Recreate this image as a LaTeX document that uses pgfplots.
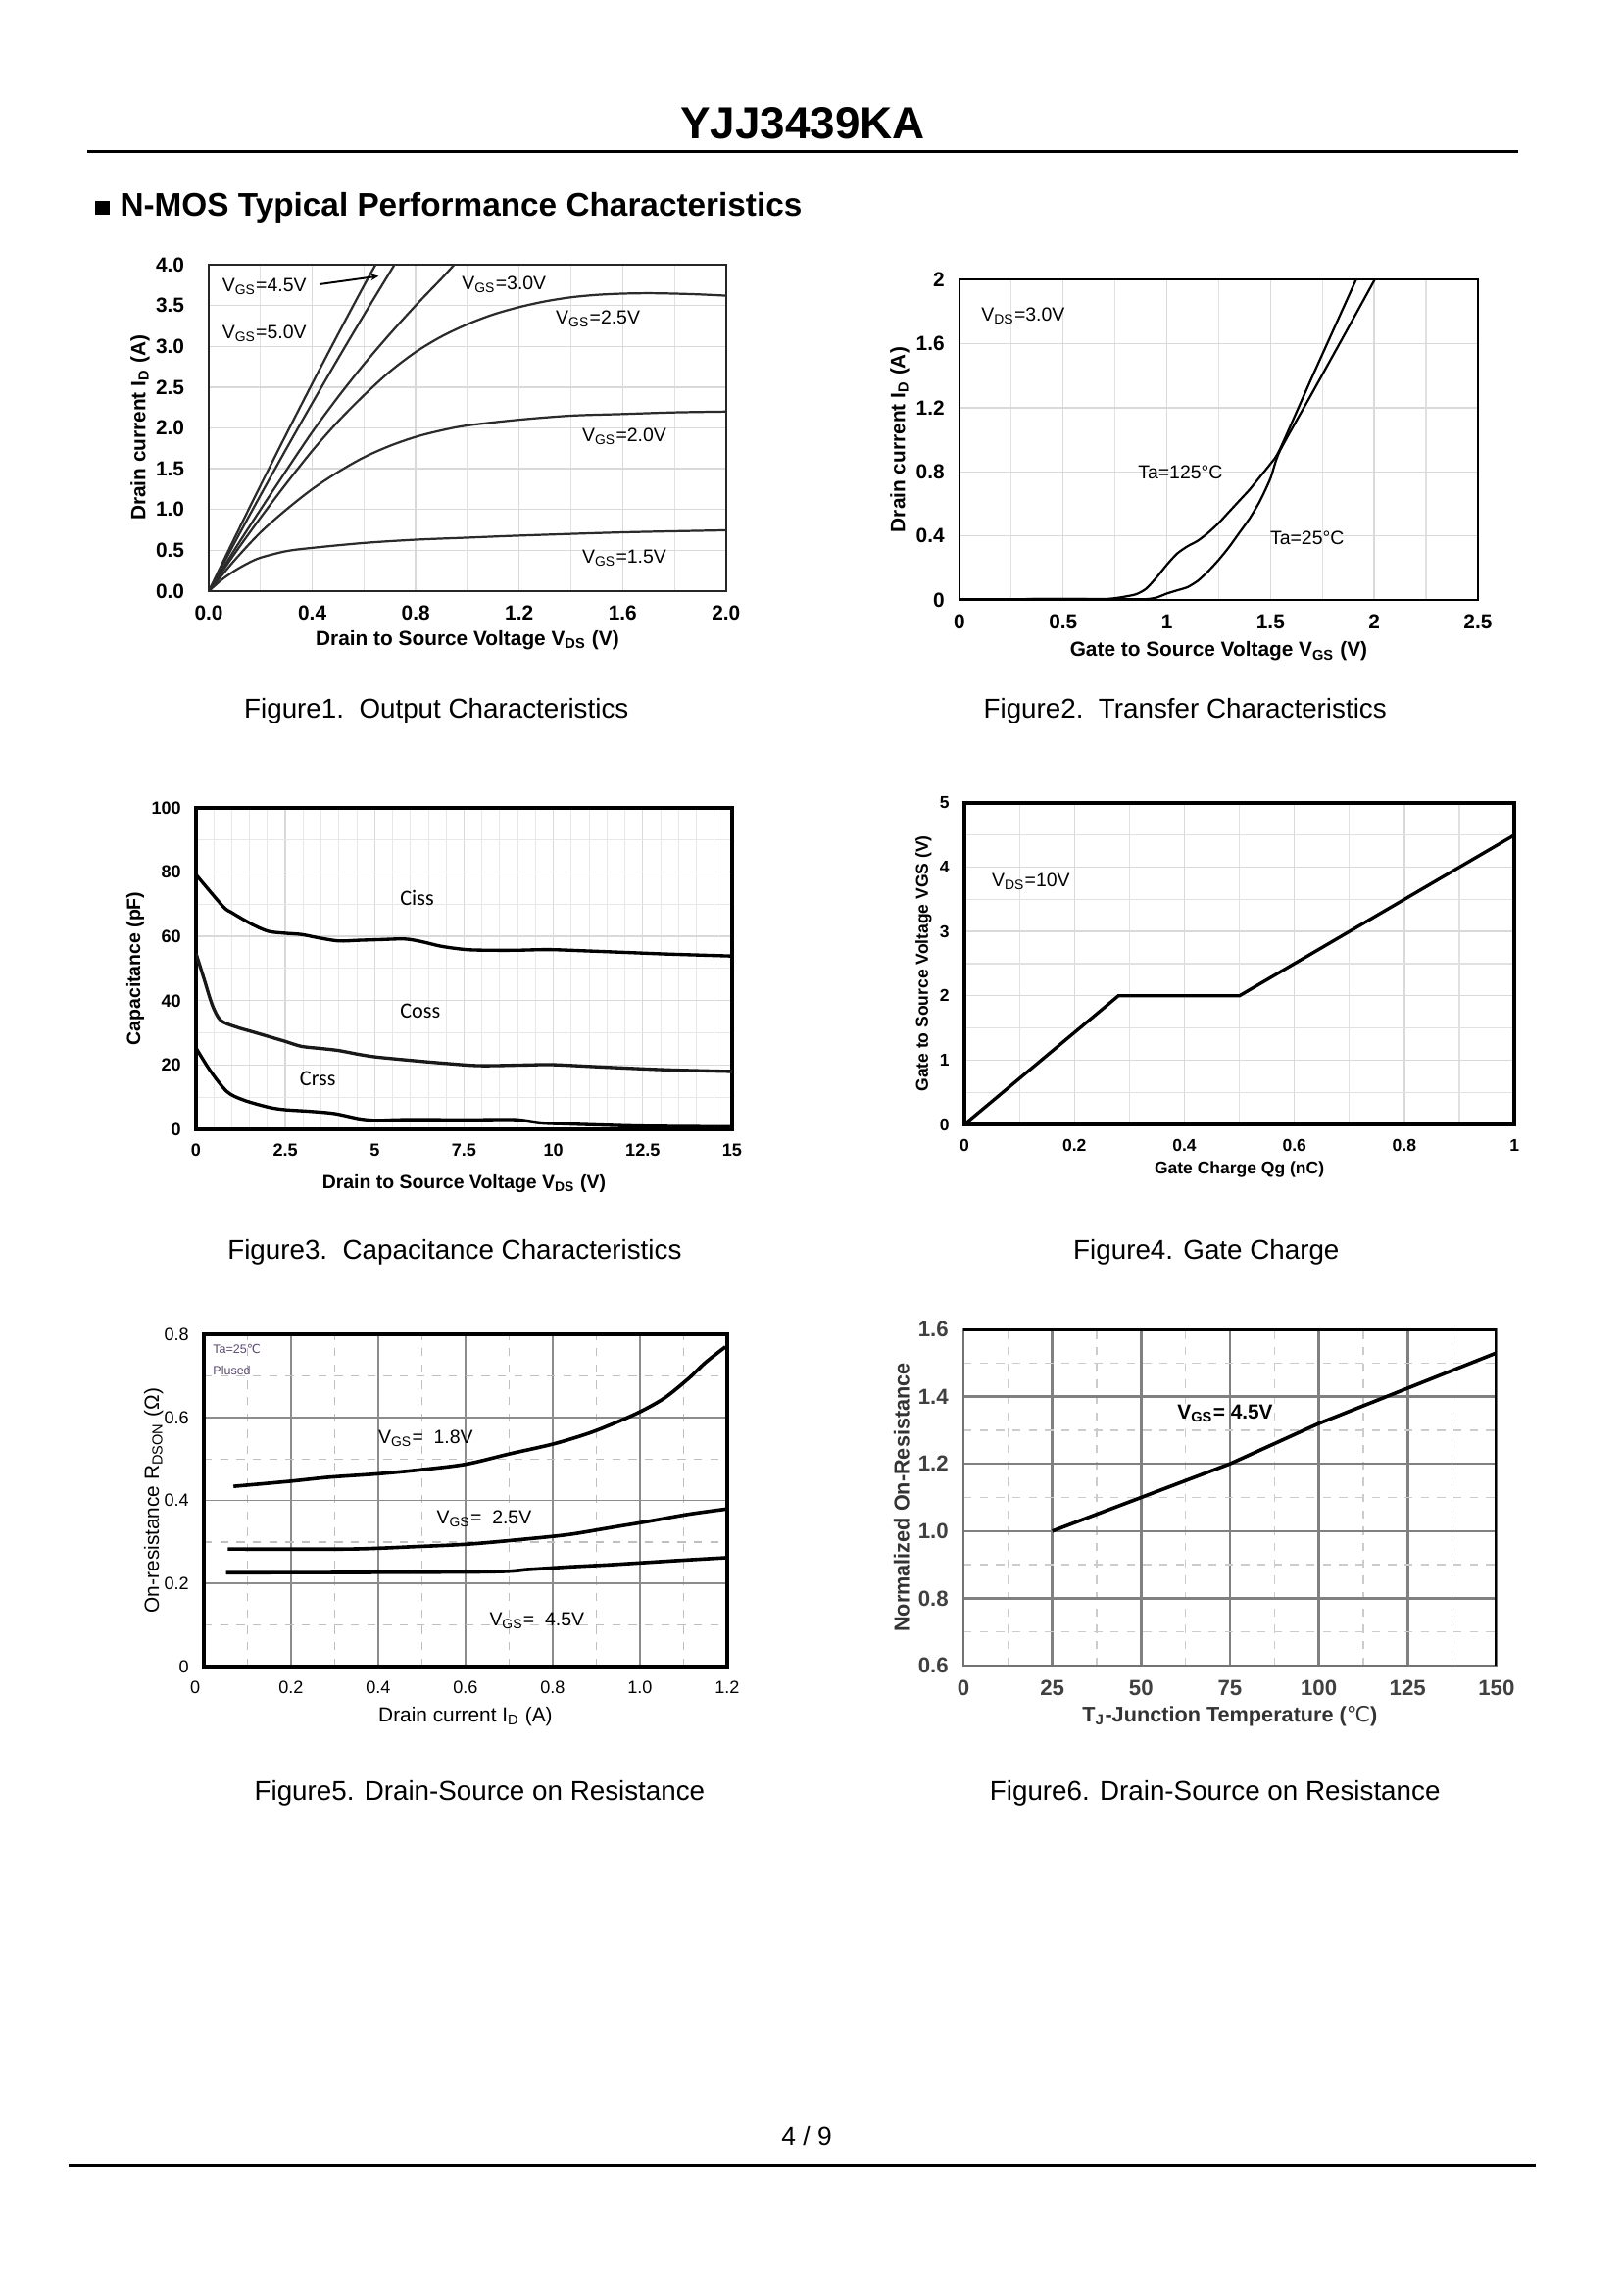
\documentclass[border=0pt]{standalone}
\usepackage{fontspec}
\setmainfont{Liberation Sans}
\newfontfamily\dejavu{DejaVu Sans}
\newfontfamily\carlito{Carlito}
\usepackage{pgfplots}
\pgfplotsset{compat=1.18}
\usetikzlibrary{arrows.meta}
\definecolor{gridc}{HTML}{D9D9D9}
\definecolor{curvec}{HTML}{2B2B2B}
\definecolor{tagc}{HTML}{5A4A6E}
\pgfplotsset{
  myax/.style={scale only axis, anchor=south west,
    major tick length=0pt, minor tick length=0pt,
    /pgf/number format/assume math mode=true,
    grid=both,
    tick label style={font=\fontsize{7}{8}\selectfont\bfseries},
    label style={font=\fontsize{7.5}{9}\selectfont\bfseries},
    xticklabel style={yshift=-2pt},
    yticklabel style={xshift=-2pt},
    major grid style={gridc, line width=0.5pt},
    minor grid style={gridc!80, line width=0.4pt},
  },
  c1/.style={curvec, line width=0.8pt, smooth, tension=0.5, no markers},
  c2/.style={black, line width=0.8pt, smooth, tension=0.4, no markers},
  c3/.style={black, line width=1.2pt, smooth, tension=0.5, no markers},
  c5/.style={black, line width=1.3pt, smooth, tension=0.5, no markers},
}
\newcommand{\fs}[1]{\fontsize{#1}{#1}\selectfont}
\begin{document}
\begin{tikzpicture}
\path[use as bounding box] (0,0) rectangle (596.16pt,-842.04pt);
\fill[white] (0,0) rectangle (596.16pt,-842.04pt);
% header
\node[anchor=base, font=\fs{16.5}\bfseries, inner sep=0pt] at (294.9pt,-51pt) {YJJ3439KA};
\draw[line width=1.1pt] (32.2pt,-55.6pt) -- (557.5pt,-55.6pt);
\fill (35pt,-78.8pt) rectangle (40.3pt,-73.8pt);
\node[anchor=base west, font=\fs{12}\bfseries, inner sep=0pt] at (43.9pt,-79.4pt) {N-MOS Typical Performance Characteristics};
% captions
\node[anchor=base, font=\fs{10}, inner sep=0pt] at (160.3pt,-263.7pt) {Figure1.\ \ Output Characteristics};
\node[anchor=base, font=\fs{10}, inner sep=0pt] at (435.3pt,-263.7pt) {Figure2.\ \ Transfer Characteristics};
\node[anchor=base, font=\fs{10}, inner sep=0pt] at (167pt,-462.4pt) {Figure3.\ \ Capacitance Characteristics};
\node[anchor=base, font=\fs{10}, inner sep=0pt] at (443.1pt,-462.4pt) {Figure4. Gate Charge};
\node[anchor=base, font=\fs{10}, inner sep=0pt] at (176.2pt,-661.1pt) {Figure5. Drain-Source on Resistance};
\node[anchor=base, font=\fs{10}, inner sep=0pt] at (446.3pt,-661.1pt) {Figure6. Drain-Source on Resistance};
% footer
\node[anchor=base, font=\fs{9.5}, inner sep=0pt] at (296.3pt,-788pt) {4 / 9};
\draw[line width=1.1pt] (25.2pt,-795pt) -- (564pt,-795pt);

%================ Figure 1
\begin{axis}[myax, at={(76.7pt,-217.08pt)}, width=190pt, height=119.9pt,
  xmin=0, xmax=2, ymin=0, ymax=4,
  xtick={0,0.4,0.8,1.2,1.6,2.0}, xticklabels={0.0,0.4,0.8,1.2,1.6,2.0},
  minor xtick={0.2,0.6,1.0,1.4,1.8},
  ytick={0,0.5,1,1.5,2,2.5,3,3.5,4}, yticklabels={0.0,0.5,1.0,1.5,2.0,2.5,3.0,3.5,4.0},
  tick label style={font=\fs{7.5}\bfseries},
  yticklabel style={xshift=-3.5pt},
  axis line style={black!85, line width=0.8pt},
  xlabel={Drain to Source Voltage V\textsubscript{DS} (V)},
  ylabel={Drain current I\textsubscript{D} (A)},
  xlabel style={at={(axis description cs:0.5,-0.150)}, anchor=center},
  ylabel style={at={(axis description cs:-0.133,0.5)}, anchor=center},
]
\addplot[c1] coordinates {(0,0)(0.1,0.654)(0.2,1.296)(0.3,1.926)(0.4,2.544)(0.5,3.15)(0.6,3.744)(0.645,4.0)};
\addplot[c1] coordinates {(0,0)(0.1,0.594)(0.2,1.176)(0.3,1.746)(0.4,2.304)(0.5,2.85)(0.6,3.384)(0.7,3.906)(0.718,4.0)};
\addplot[c1] coordinates {(0,0)(0.1,0.51)(0.2,1.0)(0.3,1.48)(0.4,1.95)(0.5,2.38)(0.6,2.78)(0.7,3.15)(0.8,3.5)(0.9,3.83)(0.949,4.0)};
\addplot[c1] coordinates {(0,0)(0.1,0.46)(0.2,0.9)(0.3,1.32)(0.4,1.72)(0.5,2.08)(0.6,2.4)(0.7,2.69)(0.8,2.93)(0.9,3.12)(1.0,3.27)(1.1,3.39)(1.2,3.48)(1.3,3.55)(1.4,3.6)(1.5,3.63)(1.6,3.645)(1.7,3.65)(1.8,3.645)(1.9,3.635)(2.0,3.62)};
\addplot[c1] coordinates {(0,0)(0.1,0.38)(0.2,0.72)(0.3,1.0)(0.4,1.25)(0.5,1.46)(0.6,1.64)(0.7,1.78)(0.8,1.89)(0.9,1.97)(1.0,2.03)(1.2,2.1)(1.4,2.15)(1.6,2.17)(1.8,2.19)(2.0,2.2)};
\addplot[c1] coordinates {(0,0)(0.05,0.14)(0.1,0.25)(0.15,0.34)(0.2,0.41)(0.3,0.49)(0.4,0.53)(0.6,0.59)(0.8,0.63)(1.0,0.655)(1.2,0.68)(1.6,0.72)(2.0,0.745)};
\begin{scope}[every node/.style={anchor=west, font=\fs{7}, inner sep=0pt}]
\node at (axis cs:0.05,3.73) {V\textsubscript{GS}=4.5V};
\node at (axis cs:0.05,3.15) {V\textsubscript{GS}=5.0V};
\node at (axis cs:0.977,3.76) {V\textsubscript{GS}=3.0V};
\node at (axis cs:1.34,3.33) {V\textsubscript{GS}=2.5V};
\node at (axis cs:1.442,1.90) {V\textsubscript{GS}=2.0V};
\node at (axis cs:1.442,0.40) {V\textsubscript{GS}=1.5V};
\end{scope}
\draw[-{Stealth[length=3pt,width=2.5pt]}, line width=0.7pt] (axis cs:0.43,3.76) -- (axis cs:0.657,3.86);
\end{axis}

%================ Figure 2
\begin{axis}[myax, at={(352.44pt,-220.32pt)}, width=190.4pt, height=117.7pt,
  xmin=0, xmax=2.5, ymin=0, ymax=2,
  xtick={0,0.5,1,1.5,2,2.5}, xticklabels={0,0.5,1,1.5,2,2.5},
  minor xtick={0.25,0.75,1.25,1.75,2.25},
  ytick={0,0.4,0.8,1.2,1.6,2}, yticklabels={0,0.4,0.8,1.2,1.6,2},
  tick label style={font=\fs{7.5}\bfseries},
  axis line style={black, line width=1pt},
  xlabel={Gate to Source Voltage V\textsubscript{GS} (V)},
  ylabel={Drain current I\textsubscript{D} (A)},
  xlabel style={at={(axis description cs:0.5,-0.161)}, anchor=center},
  ylabel style={at={(axis description cs:-0.1155,0.5)}, anchor=center},
]
\addplot[c2] coordinates {(0,0.004)(0.5,0.006)(0.8,0.004)(0.9,0.005)(0.95,0.015)(1.0,0.04)(1.05,0.06)(1.1,0.08)(1.15,0.12)(1.2,0.18)(1.25,0.25)(1.3,0.33)(1.35,0.42)(1.4,0.51)(1.45,0.62)(1.5,0.76)(1.545,0.93)(1.7,1.29)(1.85,1.64)(2.003,2.0)};
\addplot[c2] coordinates {(0,0.004)(0.5,0.006)(0.7,0.006)(0.77,0.015)(0.85,0.035)(0.9,0.07)(0.95,0.14)(1.0,0.22)(1.05,0.29)(1.1,0.335)(1.15,0.37)(1.2,0.42)(1.25,0.48)(1.3,0.55)(1.35,0.62)(1.4,0.69)(1.45,0.77)(1.5,0.85)(1.545,0.94)(1.7,1.39)(1.913,2.0)};
\begin{scope}[every node/.style={anchor=west, font=\fs{7}, inner sep=0pt}]
\node at (axis cs:0.103,1.775) {V\textsubscript{DS}=3.0V};
\node at (axis cs:0.859,0.796) {Ta=125°C};
\node at (axis cs:1.496,0.388) {Ta=25°C};
\end{scope}
\end{axis}

%================ Figure 3
\begin{axis}[myax, at={(72pt,-414.72pt)}, width=196.9pt, height=118.1pt,
  xmin=0, xmax=15, ymin=0, ymax=100,
  xtick={0,2.5,5,7.5,10,12.5,15}, xticklabels={0,2.5,5,7.5,10,12.5,15},
  minor x tick num=4,
  ytick={0,20,40,60,80,100}, yticklabels={0,20,40,60,80,100},
  minor y tick num=1,
  tick label style={font=\fs{6.5}\bfseries},
  label style={font=\fs{7}\bfseries},
  minor grid style={gridc!60, line width=0.35pt},
  axis line style={black, line width=1.3pt},
  xlabel={Drain to Source Voltage V\textsubscript{DS} (V)},
  ylabel={Capacitance (pF)},
  xlabel style={at={(axis description cs:0.5,-0.169)}, anchor=center},
  ylabel style={at={(axis description cs:-0.113,0.5)}, anchor=center},
]
\addplot[c3] coordinates {(0,79.2)(0.75,69.4)(1,67.4)(1.56,63.8)(2.02,61.6)(2.48,61.0)(2.95,60.6)(3.41,59.6)(3.99,58.6)(4.56,58.8)(5.14,59.0)(5.84,59.2)(6.3,58.4)(6.88,56.9)(7.57,55.9)(8.26,55.7)(8.96,55.7)(9.88,55.9)(10.92,55.5)(12.08,55.0)(13.23,54.5)(15,53.9)};
\addplot[c3, black!90] coordinates {(0,54.7)(0.23,46.6)(0.46,38.5)(0.69,33.9)(1.1,31.9)(1.56,30.4)(2.02,28.9)(2.48,27.4)(2.95,25.8)(3.52,25.1)(3.99,24.5)(4.56,23.3)(5.03,22.5)(5.95,21.5)(6.88,20.6)(7.92,19.8)(9.19,20.0)(10.0,20.1)(11.5,19.3)(13.2,18.5)(15,18.0)};
\addplot[c3] coordinates {(0,25.3)(0.4,18.2)(0.87,11.7)(1.33,9.1)(2.02,6.9)(2.48,6.1)(3.18,5.6)(3.87,4.9)(4.56,3.3)(5.03,2.8)(5.72,3.0)(6.88,3.0)(8.03,3.0)(8.96,3.0)(9.65,2.0)(10.34,1.7)(11.5,1.3)(12.65,1.0)(15,0.8)};
\begin{scope}[every node/.style={anchor=west, font=\carlito\fs{8}, inner sep=0pt}]
\node at (axis cs:5.70,71.9) {Ciss};
\node at (axis cs:5.70,36.8) {Coss};
\node at (axis cs:2.89,15.7) {Crss};
\end{scope}
\end{axis}

%================ Figure 4
\begin{axis}[myax, at={(354.24pt,-412.92pt)}, width=202pt, height=118.1pt,
  xmin=0, xmax=1, ymin=0, ymax=5,
  xtick={0,0.2,0.4,0.6,0.8,1}, xticklabels={0,0.2,0.4,0.6,0.8,1},
  minor x tick num=1,
  ytick={0,1,2,3,4,5}, yticklabels={0,1,2,3,4,5},
  minor y tick num=1,
  tick label style={font=\fs{6.3}\bfseries},
  label style={font=\fs{6.3}\bfseries},
  axis line style={black, line width=1.3pt},
  xlabel={Gate Charge Qg (nC)},
  ylabel={Gate to Source Voltage VGS (V)},
  xlabel style={at={(axis description cs:0.5,-0.141)}, anchor=center},
  ylabel style={at={(axis description cs:-0.074,0.5)}, anchor=center},
]
\addplot[black, line width=1.2pt, no markers] coordinates {(0,0)(0.28,2)(0.5,2)(1,4.5)};
\node[anchor=west, font=\fs{7}, inner sep=0pt] at (axis cs:0.049,3.77) {V\textsubscript{DS}=10V};
\end{axis}

%================ Figure 5
\begin{axis}[myax, at={(74.88pt,-612pt)}, width=192.2pt, height=122pt,
  xmin=0, xmax=1.2, ymin=0, ymax=0.8,
  xtick={0,0.2,0.4,0.6,0.8,1.0,1.2}, xticklabels={\makebox[0pt][r]{0\hspace{1.4pt}},0.2,0.4,0.6,0.8,1.0,1.2},
  minor x tick num=1,
  ytick={0,0.2,0.4,0.6,0.8}, yticklabels={0,0.2,0.4,0.6,0.8},
  minor y tick num=1,
  tick label style={font=\fs{6.5}},
  label style={font=\fs{7.5}},
  major grid style={black!45, line width=0.6pt},
  minor grid style={black!25, dashed, line width=0.5pt},
  axis line style={black, line width=1.5pt},
  xlabel={Drain current I\textsubscript{D} (A)},
  ylabel={On-resistance R\textsubscript{DSON} (Ω)},
  xlabel style={at={(axis description cs:0.5,-0.151)}, anchor=center},
  ylabel style={at={(axis description cs:-0.096,0.5)}, anchor=center},
]
\addplot[c5] coordinates {(0.068,0.434)(0.195,0.446)(0.287,0.456)(0.397,0.464)(0.489,0.473)(0.599,0.487)(0.7,0.512)(0.801,0.536)(0.883,0.562)(0.948,0.589)(1.003,0.615)(1.058,0.648)(1.113,0.695)(1.15,0.732)(1.196,0.770)};
\addplot[c5] coordinates {(0.055,0.283)(0.332,0.283)(0.489,0.289)(0.608,0.295)(0.727,0.306)(0.837,0.318)(0.929,0.334)(1.021,0.350)(1.113,0.367)(1.196,0.379)};
\addplot[c5] coordinates {(0.051,0.226)(0.635,0.228)(0.746,0.234)(0.837,0.240)(0.929,0.245)(1.021,0.251)(1.113,0.257)(1.196,0.262)};
\begin{scope}[every node/.style={anchor=west, font=\fs{7}, inner sep=0pt}]
\node at (axis cs:0.399,0.55) {V\textsubscript{GS}=\ \ 1.8V};
\node at (axis cs:0.533,0.357) {V\textsubscript{GS}=\ \ 2.5V};
\node at (axis cs:0.654,0.110) {V\textsubscript{GS}=\ \ 4.5V};
\end{scope}
\node[anchor=west, font=\fs{4.5}, text=tagc, inner sep=0pt] at (axis cs:0.02,0.765) {Ta=25{\dejavu ℃}};
\node[anchor=west, font=\fs{4.5}, text=tagc, inner sep=0pt] at (axis cs:0.02,0.712) {Plused};
\end{axis}

%================ Figure 6
\begin{axis}[myax, at={(353.88pt,-611.64pt)}, width=195.8pt, height=123.5pt,
  xmin=0, xmax=150, ymin=0.6, ymax=1.6,
  xtick={0,25,50,75,100,125,150}, xticklabels={0,25,50,75,100,125,150},
  minor x tick num=1,
  ytick={0.6,0.8,1.0,1.2,1.4,1.6}, yticklabels={0.6,0.8,1.0,1.2,1.4,1.6},
  minor y tick num=1,
  tick label style={font=\fs{8}\bfseries, text=black!75},
  label style={font=\fs{7.8}\bfseries, text=black!80},
  major grid style={black!50, line width=0.9pt},
  minor grid style={black!20, dashed, line width=0.5pt},
  axis line style={black!55, line width=1pt},
  xlabel={T\textsubscript{J}-Junction Temperature ({\dejavu\mdseries ℃})},
  ylabel={Normalized On-Resistance},
  xlabel style={at={(axis description cs:0.5,-0.151)}, anchor=center},
  ylabel style={at={(axis description cs:-0.116,0.5)}, anchor=center},
]
\addplot[black, line width=1.3pt, no markers] coordinates {(25,1.0)(75,1.2)(100,1.32)(150,1.53)};
\node[anchor=west, font=\fs{7.5}\bfseries, inner sep=0pt] at (axis cs:60.1,1.35) {V\textsubscript{GS}= 4.5V};
\draw[black, line width=1.2pt] (rel axis cs:0,1) -- (rel axis cs:1,1) -- (rel axis cs:1,0);
\end{axis}
\end{tikzpicture}
\end{document}
